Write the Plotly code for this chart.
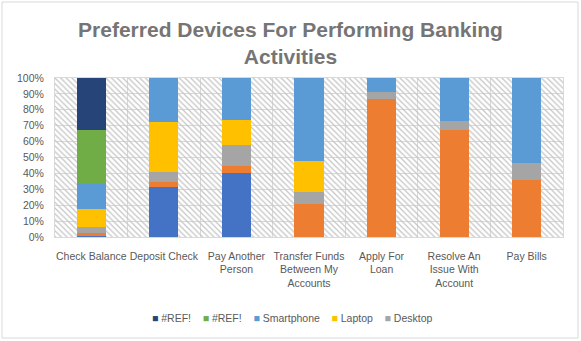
import plotly.graph_objects as go

categories = [
    "Check Balance",
    "Deposit Check",
    "Pay Another<br>Person",
    "Transfer Funds<br>Between My<br>Accounts",
    "Apply For<br>Loan",
    "Resolve An<br>Issue With<br>Account",
    "Pay Bills",
]

# stacked bottom -> top (100% stacked)
series_a = [0.6, 31.2, 40.0, 0.0, 0.0, 0.0, 0.0]      # unnamed (not in legend)
series_b = [1.7, 3.4, 4.7, 20.5, 86.6, 67.1, 35.8]    # unnamed (not in legend)
desktop = [3.8, 6.1, 13.0, 7.6, 4.4, 5.6, 10.5]
laptop = [11.3, 31.4, 15.7, 19.5, 0.0, 0.0, 0.0]
smartphone = [16.1, 27.9, 26.6, 52.4, 9.0, 27.3, 53.7]
ref_green = [33.5, 0.0, 0.0, 0.0, 0.0, 0.0, 0.0]
ref_navy = [32.9, 0.0, 0.0, 0.0, 0.0, 0.0, 0.0]

y_ticks = [0, 10, 20, 30, 40, 50, 60, 70, 80, 90, 100]

series = [
    ("Series 1", series_a, "#4472C4", False),
    ("Series 2", series_b, "#ED7D31", False),
    ("Desktop", desktop, "#A5A5A5", True),
    ("Laptop", laptop, "#FFC000", True),
    ("Smartphone", smartphone, "#5B9BD5", True),
    ("#REF!", ref_green, "#70AD47", True),
    ("#REF!", ref_navy, "#264478", True),
]

W, H = 581, 341
ML, MR, MT, MB = 55, 18, 78, 104
PW, PH = W - ML - MR, H - MT - MB

fig = go.Figure()

# plot-area background hatch (decorative fill on hidden base axes, drawn under the data)
fig.add_trace(go.Bar(
    x=[0.5], y=[100], width=[1], xaxis="x", yaxis="y",
    marker=dict(
        color="white", line=dict(width=0),
        pattern=dict(shape="\\", size=4, solidity=0.3, fgcolor="#c4c4c4",
                     bgcolor="rgba(255,255,255,0)", fillmode="replace"),
    ),
    hoverinfo="skip", showlegend=False, name="",
))

for name, vals, color, show in series:
    fig.add_trace(go.Bar(
        x=categories, y=vals, name=name, xaxis="x2", yaxis="y2",
        marker=dict(color=color, line=dict(width=0)),
        showlegend=False,
    ))

# compact legend (Excel style), top series first
legend_items = [(n, c) for n, _, c, show in reversed(series) if show]
legend_text = "&nbsp;&nbsp;&nbsp;&nbsp;".join(
    f"<span style='color:{c}'>■</span> {n}" for n, c in legend_items
)

fig.update_layout(
    width=W, height=H,
    margin=dict(l=ML, r=MR, t=MT, b=MB),
    barmode="stack", barnorm="percent", bargap=0.6,
    paper_bgcolor="white", plot_bgcolor="white",
    font=dict(family="Liberation Sans, Arial, sans-serif", size=11, color="#595959"),
    title=dict(
        text="Preferred Devices For Performing Banking<br>Activities",
        font=dict(family="Liberation Sans, Arial, sans-serif", size=21, color="#757575", weight="bold"),
        x=0.5, xanchor="center", xref="container",
        y=1 - 36.5 / H, yanchor="middle", yref="container",
    ),
    xaxis=dict(range=[0, 1], visible=False, showgrid=False, fixedrange=True),
    yaxis=dict(range=[0, 100], visible=False, showgrid=False, fixedrange=True),
    xaxis2=dict(
        overlaying="x", side="bottom",
        type="category", tickson="boundaries", showgrid=True, gridcolor="#d9d9d9", gridwidth=1,
        showline=True, linecolor="#d9d9d9", mirror=True, ticks="", ticklen=0, tickangle=0,
        tickfont=dict(size=10.5, color="#595959"), ticklabelstandoff=9, fixedrange=True,
    ),
    yaxis2=dict(
        overlaying="y", side="left",
        range=[0, 100], tickvals=y_ticks, ticktext=[f"{v}%" for v in y_ticks],
        showgrid=True, gridcolor="#d9d9d9", gridwidth=1, zeroline=False,
        showline=True, linecolor="#d9d9d9", mirror=True, ticks="",
        tickfont=dict(size=10.5, color="#595959"), ticklabelstandoff=8, fixedrange=True,
    ),
    showlegend=False,
    annotations=[dict(
        text=legend_text, xref="paper", yref="paper",
        x=(292 - ML) / PW, xanchor="center",
        y=-(318 - (MT + PH)) / PH, yanchor="middle",
        showarrow=False, font=dict(size=10.5, color="#595959"),
    )],
    shapes=[dict(
        type="rect", xref="paper", yref="paper",
        x0=(2 - ML) / PW, x1=(578 - ML) / PW,
        y0=-(338 - (MT + PH)) / PH, y1=1 + (MT - 2) / PH,
        line=dict(color="#d9d9d9", width=1), fillcolor="rgba(0,0,0,0)", layer="below",
    )],
)

fig.write_html("out.html")
